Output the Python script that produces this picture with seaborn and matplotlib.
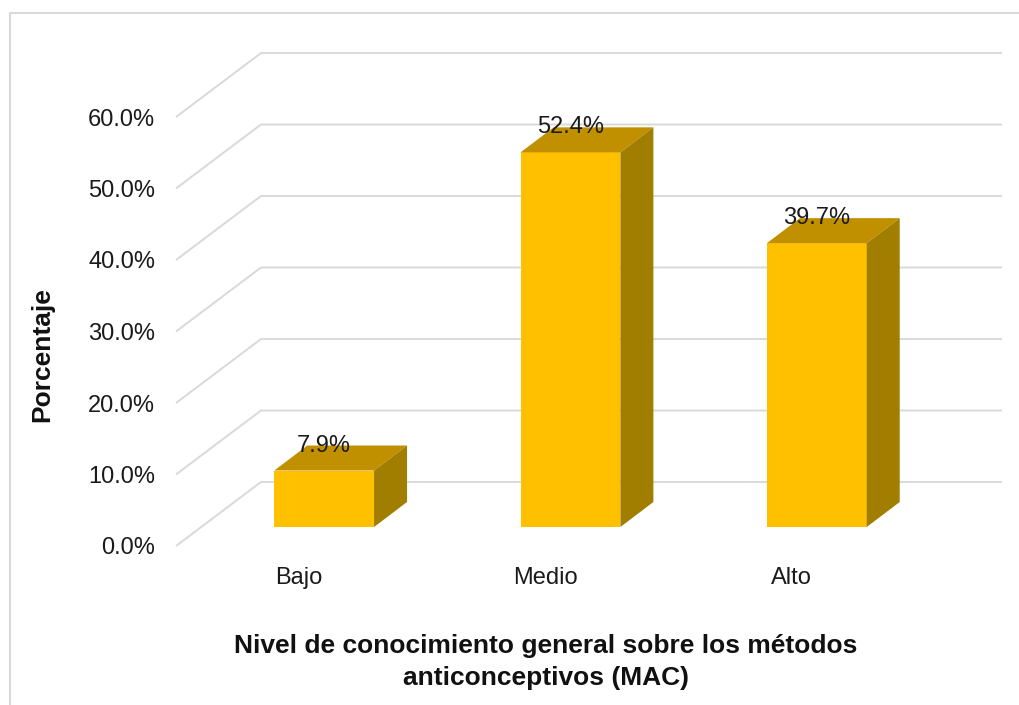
import matplotlib
matplotlib.use("Agg")
import matplotlib.pyplot as plt
from matplotlib.patches import Polygon
from matplotlib.lines import Line2D
import seaborn as sns
import pandas as pd

# ---- data ----
categories = ["Bajo", "Medio", "Alto"]
values = [7.9, 52.4, 39.7]
y_ticks = [0, 10, 20, 30, 40, 50, 60]
y_tick_labels = ["0.0%", "10.0%", "20.0%", "30.0%", "40.0%", "50.0%", "60.0%"]
x_title = "Nivel de conocimiento general sobre los métodos\nanticonceptivos (MAC)"
y_title = "Porcentaje"

sns.set_theme(style="white")
plt.rcParams['font.family'] = ['Liberation Sans', 'DejaVu Sans']

W, H = 1019, 705
fig = plt.figure(figsize=(W / 100, H / 100), dpi=100)
fig.patch.set_facecolor("white")

# axes = front plane of the floor (pixel geometry)
X0, X1 = 176, 915
Y0, Y1 = 546, 117
ax = fig.add_axes([X0 / W, 1 - Y0 / H, (X1 - X0) / W, (Y0 - Y1) / H])
ax.set_facecolor("none")

df = pd.DataFrame({"cat": categories, "val": values})
sns.barplot(data=df, x="cat", y="val", order=categories, width=0.405,
            color="#FFC000", saturation=1, ax=ax, zorder=3, linewidth=0)

ax.set_xlim(-0.5, 2.5)
ax.set_ylim(0, 60)
sx = 3.0 / (X1 - X0)      # data units per pixel (x)
sy = 60.0 / (Y0 - Y1)     # data units per pixel (y)

# 3D perspective offsets (pixels)
WDX, WDY = 85, 64          # back wall depth
FDX, FDY = 25, 19          # bar front face depth
BDX, BDY = 33, 25          # bar depth
grid_c = "#D9D9D9"

# walls / gridlines
for t in y_ticks:
    xs = [-0.5, -0.5 + WDX * sx, 2.5 + (WDX + 2) * sx]
    ys = [t, t + WDY * sy, t + WDY * sy]
    ax.plot(xs, ys, color=grid_c, lw=1.4, clip_on=False, zorder=0,
            solid_capstyle="butt")

# shift bars into depth and add top & side faces
for p, v in zip(ax.patches, values):
    p.set_x(p.get_x() + FDX * sx)
    p.set_y(p.get_y() + FDY * sy)
    p.set_edgecolor("none")
    xl = p.get_x()
    xr = xl + p.get_width()
    yb = p.get_y()
    yt = yb + p.get_height()
    top = Polygon([(xl, yt), (xl + BDX * sx, yt + BDY * sy),
                   (xr + BDX * sx, yt + BDY * sy), (xr, yt)],
                  closed=True, facecolor="#C09000", edgecolor="none",
                  zorder=3, clip_on=False)
    side = Polygon([(xr, yb), (xr + BDX * sx, yb + BDY * sy),
                    (xr + BDX * sx, yt + BDY * sy), (xr, yt)],
                   closed=True, facecolor="#A27E00", edgecolor="none",
                   zorder=3, clip_on=False)
    ax.add_patch(top)
    ax.add_patch(side)
    ax.text((xl + xr) / 2, yt + BDY * sy, f"{v:.1f}%", ha="center",
            va="center", fontsize=17, color="#1a1a1a", zorder=5, clip_on=False)

ax.set_yticks(y_ticks)
ax.set_yticklabels(y_tick_labels)
ax.tick_params(axis="y", length=0, pad=15, labelsize=17, labelcolor="#1a1a1a")
ax.tick_params(axis="x", length=0, pad=15, labelsize=17, labelcolor="#1a1a1a")
for s in ax.spines.values():
    s.set_visible(False)

ax.set_xlabel(x_title, fontsize=19, fontweight="bold", color="#111111",
              linespacing=1.37)
ax.xaxis.set_label_coords((546 - X0) / (X1 - X0), -(662 - Y0) / (Y0 - Y1))
ax.xaxis.label.set_va("center")
ax.set_ylabel(y_title, fontsize=19, fontweight="bold", color="#111111")
ax.yaxis.set_label_coords((42 - X0) / (X1 - X0), (Y0 - 355) / (Y0 - Y1))
ax.yaxis.label.set_va("center")

# outer chart border
fig.add_artist(Line2D([10 / W, 10 / W, 1.0], [0.0, 1 - 13 / H, 1 - 13 / H],
                      transform=fig.transFigure, color=grid_c, lw=1.5))

fig.savefig("out.png", dpi=100)
